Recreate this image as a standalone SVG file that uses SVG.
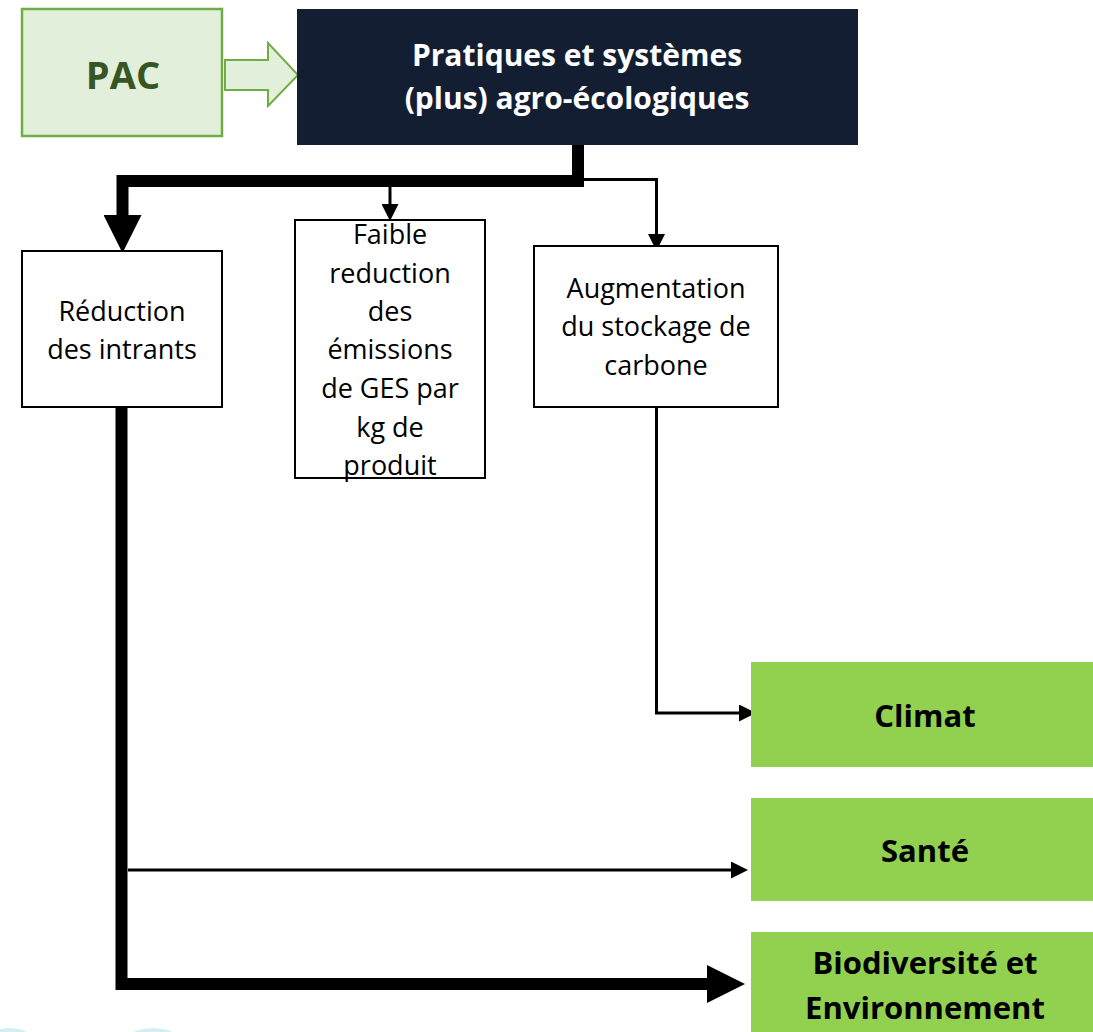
<svg xmlns="http://www.w3.org/2000/svg" width="1093" height="1032" viewBox="0 0 1093 1032">
<style>
.box{fill:#fff;stroke:#000;stroke-width:2}
.res{fill:#92D050}
.t{font-family:"Open Sans","Liberation Sans",sans-serif;font-size:27px;fill:#000;text-anchor:middle}
.tb{font-family:"Open Sans","Liberation Sans",sans-serif;font-size:31px;font-weight:bold;fill:#000;text-anchor:middle}
.thick{fill:none;stroke:#000;stroke-width:12}
.thin{fill:none;stroke:#000;stroke-width:3}
</style>
<defs>
<marker id="ah-thick" markerUnits="userSpaceOnUse" markerWidth="38" markerHeight="38" viewBox="0 0 37 37" refX="0" refY="18.5" orient="auto">
<path d="M0,0 L37,18.5 L0,37 Z" fill="#000"/>
</marker>
<marker id="ah-thin" markerUnits="userSpaceOnUse" markerWidth="17" markerHeight="17" viewBox="0 0 16 16" refX="0" refY="8" orient="auto">
<path d="M0,0 L16,8 L0,16 Z" fill="#000"/>
</marker>
</defs>
<rect width="1093" height="1032" fill="#fff"/>
<g id="watermark" fill="#D3EFEF">
<ellipse cx="10" cy="1052" rx="30" ry="24"/>
<ellipse cx="153" cy="1062" rx="42" ry="34"/>
</g>
<g id="connectors">
<polygon points="225,60 268,60 268,43 298,75 268,106 268,90 225,90" fill="#E2EFDA" stroke="#70AD47" stroke-width="2"/>
<path class="thick" d="M578,145 V181 H122.5 V215" marker-end="url(#ah-thick)"/>
<path class="thin" d="M390,181 V204" marker-end="url(#ah-thin)"/>
<path class="thin" d="M583,179.5 H656.5 V234" marker-end="url(#ah-thin)"/>
<path class="thin" d="M656.5,407 V713 H739" marker-end="url(#ah-thin)"/>
<path class="thin" d="M128,870 H731" marker-end="url(#ah-thin)"/>
<path class="thick" d="M121.5,407 V984 H707" marker-end="url(#ah-thick)"/>
</g>
<g id="pac">
<rect x="22" y="9" width="200" height="127" fill="#E2EFDA" stroke="#70AD47" stroke-width="2.5"/>
<text x="123" y="89" font-family="'Open Sans','Liberation Sans',sans-serif" font-size="38" font-weight="bold" fill="#375623" text-anchor="middle">PAC</text>
</g>
<g id="pratiques">
<rect x="297" y="9" width="561" height="136" fill="#131E33"/>
<text class="tb" x="577" y="66" style="fill:#fff;font-size:30px">Pratiques et systèmes</text>
<text class="tb" x="577" y="109" style="fill:#fff;font-size:30px">(plus) agro-écologiques</text>
</g>
<g id="reduction">
<rect class="box" x="22" y="251" width="200" height="156"/>
<text class="t" x="122" y="321">Réduction</text>
<text class="t" x="122" y="359">des intrants</text>
</g>
<g id="faible">
<rect class="box" x="295" y="220" width="190" height="258"/>
<text class="t" x="390" y="244">Faible</text>
<text class="t" x="390" y="283">reduction</text>
<text class="t" x="390" y="321">des</text>
<text class="t" x="390" y="359">émissions</text>
<text class="t" x="390" y="398">de GES par</text>
<text class="t" x="390" y="437">kg de</text>
<text class="t" x="390" y="475">produit</text>
</g>
<g id="augmentation">
<rect class="box" x="534" y="246" width="244" height="161"/>
<text class="t" x="656" y="298">Augmentation</text>
<text class="t" x="656" y="336">du stockage de</text>
<text class="t" x="656" y="375">carbone</text>
</g>
<g id="climat">
<rect class="res" x="751" y="662" width="342" height="105"/>
<text class="tb" x="925" y="727">Climat</text>
</g>
<g id="sante">
<rect class="res" x="751" y="798" width="342" height="103"/>
<text class="tb" x="925" y="862">Santé</text>
</g>
<g id="biodiversite">
<rect class="res" x="751" y="932" width="342" height="100"/>
<text class="tb" x="925" y="974">Biodiversité et</text>
<text class="tb" x="925" y="1019">Environnement</text>
</g>
</svg>
